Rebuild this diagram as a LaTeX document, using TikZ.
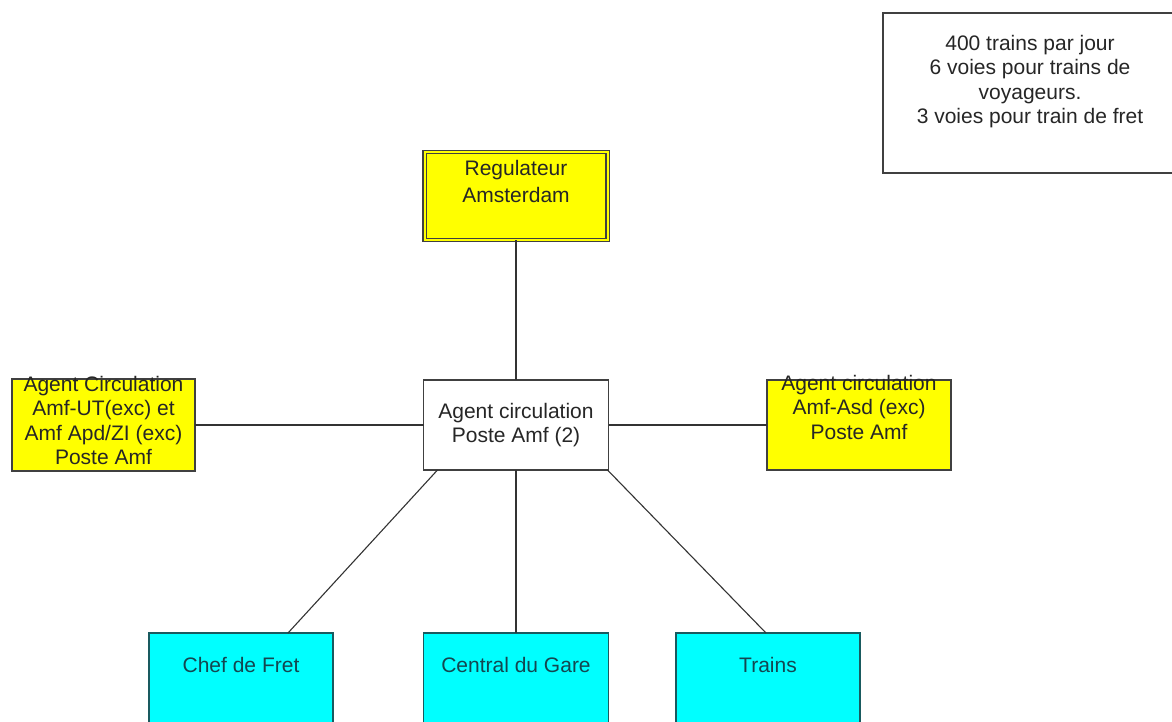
\documentclass[tikz,border=0pt]{standalone}
\usepackage{fontspec}
\setmainfont{Liberation Sans}
\definecolor{cyanborder}{RGB}{25,90,95}
\definecolor{cyantext}{RGB}{20,70,80}
\definecolor{cyanfill}{RGB}{0,255,255}
\definecolor{yelfill}{RGB}{255,255,0}
\begin{document}
\begin{tikzpicture}[x=1pt,y=-1pt,
  box/.style={draw=black!75, line width=1.3pt, inner sep=0pt, outer sep=0pt, rectangle},
  yel/.style={box, fill=yelfill},
  cyn/.style={box, fill=cyanfill, draw=cyanborder},
  txt/.style={font=\fontsize{21}{24.5}\selectfont, align=center, text=black!85, inner sep=0pt},
  ctxt/.style={txt, text=cyantext},
  link/.style={draw=black!80, line width=1.1pt}]
\clip (0,0) rectangle (1172,722);
\fill[white] (0,0) rectangle (1172,722);

% top regulator
\node[yel, double=yelfill, double distance=2pt, line width=1.2pt,
      minimum width=183pt, minimum height=88pt,
      label={[txt, font=\fontsize{21}{27.5}\selectfont, anchor=north, yshift=-8pt]north:{Regulateur\\Amsterdam}}]
      (reg) at (516,196) {};

% centre
\node[box, fill=white, minimum width=185pt, minimum height=90pt, txt]
      (ctr) at (516,425) {Agent circulation\\Poste Amf (2)};

% left and right agents
\node[yel, minimum width=183pt, minimum height=92pt,
      label={[txt, anchor=north, yshift=3pt]north:{Agent Circulation\\Amf-UT(exc) et\\Amf Apd/ZI (exc)\\Poste Amf}}]
      (agl) at (103.5,425) {};
\node[yel, minimum width=184pt, minimum height=90pt,
      label={[txt, anchor=north, yshift=5pt]north:{Agent circulation\\Amf-Asd (exc)\\Poste Amf}}]
      (agr) at (859,425) {};

% info box
\node[box, fill=white, minimum width=294pt, minimum height=160pt,
      label={[txt, anchor=north, yshift=-22pt]north:{400 trains par jour\\6 voies pour trains de\\voyageurs.\\3 voies pour train de fret}}]
      (info) at (1030,93) {};

% cyan boxes
\node[cyn, minimum width=184pt, minimum height=120pt,
      label={[ctxt, anchor=north, yshift=-24pt]north:{Chef de Fret}}]
      (chef) at (241,693) {};
\node[cyn, minimum width=185pt, minimum height=120pt,
      label={[ctxt, anchor=north, yshift=-24pt]north:{Central du Gare}}]
      (gare) at (516,693) {};
\node[cyn, minimum width=184pt, minimum height=120pt,
      label={[ctxt, anchor=north, yshift=-24pt]north:{Trains}}]
      (trains) at (768,693) {};

% connectors
\draw[link] (reg.south) -- (ctr.north);
\draw[link] (agl.east) -- (ctr.west);
\draw[link] (ctr.east) -- (agr.west);
\draw[link] ([xshift=14pt]ctr.south west) -- ([xshift=47pt]chef.north);
\draw[link] (ctr.south) -- (gare.north);
\draw[link] ([xshift=-1pt]ctr.south east) -- ([xshift=-2pt]trains.north);
\end{tikzpicture}
\end{document}
